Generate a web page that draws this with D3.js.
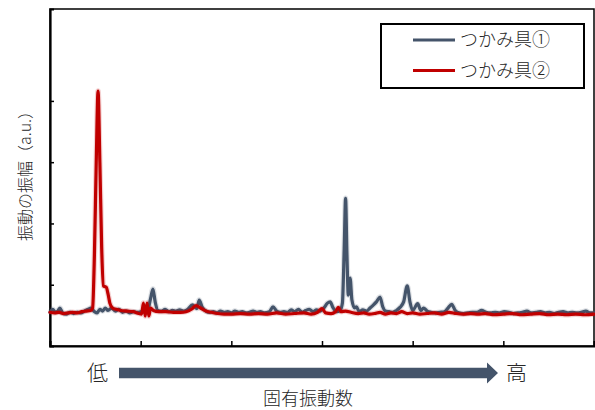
<!DOCTYPE html>
<html><head><meta charset="utf-8">
<script src="https://cdn.jsdelivr.net/npm/d3@7"></script>
<style>
html,body{margin:0;padding:0;background:#fff;}
svg{display:block;font-family:"Noto Sans CJK JP","Noto Sans",sans-serif;}
</style></head>
<body><svg id="c" width="595" height="410"></svg>
<script>
// ---- data (frequency in arbitrary units 0..6, amplitude in a.u.) ----
const seriesNames = ["つかみ具①", "つかみ具②"];
const xTicks = [1, 2, 3, 4, 5];
const yTicks = [1, 2, 3, 4];
const greyFreq = [0.00,0.03,0.06,0.09,0.11,0.14,0.18,0.22,0.26,0.30,0.34,0.38,0.42,0.45,0.49,0.52,0.55,0.58,0.61,0.64,0.68,0.72,0.76,0.80,0.84,0.88,0.92,0.96,1.00,1.04,1.08,1.11,1.135,1.16,1.19,1.23,1.27,1.31,1.35,1.39,1.43,1.47,1.52,1.57,1.62,1.645,1.68,1.72,1.76,1.80,1.84,1.88,1.92,1.96,2.00,2.04,2.08,2.12,2.16,2.20,2.24,2.28,2.32,2.36,2.42,2.46,2.50,2.54,2.58,2.62,2.66,2.70,2.74,2.78,2.82,2.86,2.90,2.94,2.98,3.02,3.06,3.09,3.12,3.16,3.20,3.225,3.245,3.26,3.275,3.29,3.31,3.33,3.36,3.38,3.41,3.45,3.49,3.53,3.56,3.60,3.64,3.67,3.70,3.74,3.78,3.82,3.86,3.90,3.94,3.97,4.00,4.055,4.09,4.12,4.16,4.20,4.25,4.30,4.35,4.39,4.43,4.47,4.51,4.56,4.61,4.66,4.71,4.76,4.81,4.86,4.91,4.96,5.01,5.06,5.11,5.16,5.21,5.26,5.31,5.36,5.41,5.46,5.51,5.56,5.61,5.66,5.71,5.76,5.81,5.86,5.91,5.96,6.00];
const greyAmp  = [0.55,0.60,0.55,0.58,0.62,0.54,0.52,0.55,0.53,0.55,0.54,0.57,0.60,0.62,0.56,0.54,0.60,0.57,0.62,0.58,0.62,0.57,0.60,0.55,0.57,0.54,0.56,0.55,0.56,0.58,0.60,0.78,0.93,0.72,0.58,0.57,0.60,0.56,0.58,0.57,0.59,0.57,0.60,0.67,0.61,0.75,0.63,0.57,0.55,0.56,0.54,0.57,0.55,0.56,0.54,0.57,0.55,0.56,0.54,0.55,0.57,0.55,0.56,0.54,0.56,0.64,0.57,0.55,0.56,0.55,0.59,0.56,0.60,0.55,0.58,0.60,0.56,0.59,0.57,0.62,0.70,0.72,0.63,0.56,0.58,0.70,1.60,2.41,1.50,0.83,1.11,0.75,0.62,0.64,0.56,0.59,0.57,0.62,0.66,0.72,0.80,0.64,0.57,0.56,0.55,0.58,0.63,0.72,0.98,0.72,0.58,0.69,0.58,0.62,0.57,0.55,0.54,0.55,0.56,0.62,0.68,0.58,0.54,0.53,0.54,0.55,0.55,0.58,0.55,0.54,0.55,0.54,0.56,0.55,0.53,0.54,0.55,0.57,0.54,0.55,0.56,0.54,0.55,0.53,0.55,0.56,0.54,0.55,0.54,0.55,0.57,0.54,0.54];
const redFreq = [0.00,0.05,0.10,0.15,0.20,0.25,0.30,0.35,0.40,0.45,0.47,0.49,0.51,0.53,0.55,0.57,0.59,0.62,0.64,0.66,0.69,0.73,0.78,0.85,0.92,0.98,1.01,1.03,1.05,1.07,1.09,1.11,1.14,1.20,1.28,1.36,1.44,1.50,1.56,1.61,1.66,1.72,1.78,1.85,1.92,2.00,2.10,2.20,2.30,2.40,2.50,2.60,2.70,2.80,2.88,2.95,3.00,3.04,3.10,3.15,3.18,3.21,3.26,3.32,3.40,3.46,3.52,3.58,3.64,3.70,3.76,3.82,3.88,3.94,4.00,4.08,4.16,4.24,4.32,4.40,4.48,4.56,4.64,4.72,4.80,4.90,5.00,5.10,5.20,5.30,5.40,5.50,5.60,5.70,5.80,5.90,6.00];
const redAmp  = [0.55,0.54,0.55,0.53,0.54,0.55,0.54,0.56,0.57,0.58,0.62,1.50,3.00,4.16,3.00,1.60,0.98,0.96,0.85,0.70,0.62,0.60,0.58,0.57,0.56,0.53,0.52,0.70,0.49,0.70,0.49,0.62,0.58,0.56,0.56,0.55,0.55,0.56,0.60,0.66,0.62,0.57,0.55,0.53,0.52,0.52,0.53,0.52,0.53,0.52,0.54,0.52,0.53,0.54,0.52,0.55,0.61,0.54,0.53,0.56,0.63,0.56,0.57,0.55,0.53,0.54,0.52,0.53,0.55,0.52,0.54,0.53,0.56,0.53,0.54,0.52,0.53,0.54,0.52,0.55,0.53,0.52,0.53,0.52,0.53,0.51,0.52,0.53,0.51,0.52,0.53,0.51,0.52,0.51,0.52,0.51,0.52];
const colors = ["#44546A", "#C00000"];

// ---- layout ----
const svg = d3.select("#c");
const L = 50, R = 594, T = 9, B = 346;
const x = d3.scaleLinear().domain([0, 6]).range([L, R]);
const y = d3.scaleLinear().domain([0, 5.5]).range([B, T]);

// frame
svg.append("rect").attr("x", L).attr("y", T).attr("width", R - L).attr("height", B - T)
  .attr("fill", "none").attr("stroke", "#000").attr("stroke-width", 1.5);

// axes with inward ticks, no labels
const gx = svg.append("g").attr("transform", `translate(0,${B})`)
  .call(d3.axisBottom(x).tickValues(xTicks).tickSize(-5).tickFormat(""));
const gy = svg.append("g").attr("transform", `translate(${L},0)`)
  .call(d3.axisLeft(y).tickValues(yTicks).tickSize(-4).tickFormat(""));
[gx, gy].forEach(g => {
  g.select(".domain").attr("stroke", "#000").attr("stroke-width", 2.2);
  g.selectAll(".tick line").attr("stroke", "#000").attr("stroke-width", 1.5);
});

// lines
const line = d3.line().x(d => x(d[0])).y(d => y(d[1])).curve(d3.curveMonotoneX);
const series = [
  d3.zip(greyFreq, greyAmp),
  d3.zip(redFreq, redAmp)
];
series.forEach((s, i) => {
  svg.append("path").datum(s).attr("d", line).attr("fill", "none")
    .attr("stroke", colors[i]).attr("stroke-width", 5.5).attr("stroke-opacity", 0.18)
    .attr("stroke-linejoin", "round");
  svg.append("path").datum(s).attr("d", line).attr("fill", "none")
    .attr("stroke", colors[i]).attr("stroke-width", 3.2)
    .attr("stroke-linejoin", "round").attr("stroke-linecap", "round");
});

// legend
const lg = svg.append("g");
lg.append("rect").attr("x", 381).attr("y", 24).attr("width", 203).attr("height", 64)
  .attr("fill", "#fff").attr("stroke", "#000").attr("stroke-width", 2);
seriesNames.forEach((n, i) => {
  const yy = 40 + i * 30.5;
  lg.append("line").attr("x1", 413).attr("x2", 455).attr("y1", yy).attr("y2", yy)
    .attr("stroke", colors[i]).attr("stroke-width", 3);
  lg.append("text").attr("x", 460).attr("y", yy).attr("dy", "0.35em")
    .attr("font-size", 18).attr("font-weight", 300).attr("fill", "#262626").text(n);
});

// y axis title
svg.append("text").attr("transform", "translate(25,172) rotate(-90)")
  .attr("text-anchor", "middle").attr("dy", "0.35em")
  .attr("font-size", 16).attr("font-weight", 300).attr("fill", "#262626").text("振動の振幅（a.u.）");

// x axis title
svg.append("text").attr("x", 308).attr("y", 399).attr("text-anchor", "middle")
  .attr("dy", "0.35em").attr("font-size", 18).attr("font-weight", 300).attr("fill", "#262626").text("固有振動数");

// low/high arrow
svg.append("text").attr("x", 97.5).attr("y", 373).attr("text-anchor", "middle")
  .attr("dy", "0.35em").attr("font-size", 21).attr("font-weight", 300).attr("fill", "#262626").text("低");
svg.append("text").attr("x", 516.5).attr("y", 373).attr("text-anchor", "middle")
  .attr("dy", "0.35em").attr("font-size", 21).attr("font-weight", 300).attr("fill", "#262626").text("高");
const ax0 = 119, ax1 = 487, tip = 498, cy = 373;
svg.append("path")
  .attr("d", `M${ax0},${cy - 5.3}L${ax1},${cy - 5.3}L${ax1},${cy - 10.5}L${tip},${cy}L${ax1},${cy + 10.5}L${ax1},${cy + 5.3}L${ax0},${cy + 5.3}Z`)
  .attr("fill", "#44546A");
</script></body></html>
